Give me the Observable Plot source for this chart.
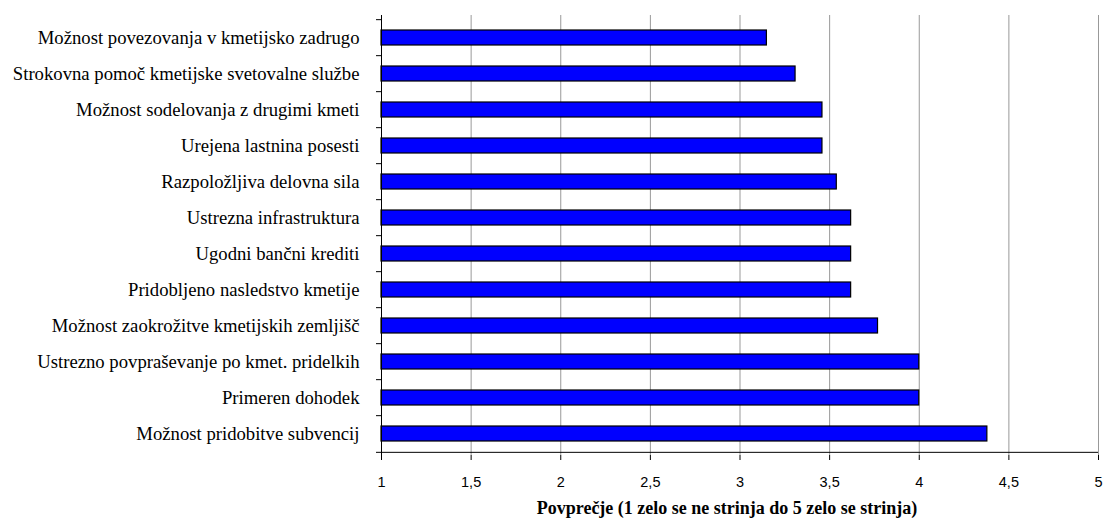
<!DOCTYPE html>
<html>
<head>
<meta charset="utf-8">
<script src="https://cdn.jsdelivr.net/npm/d3@7"></script>
<script src="https://cdn.jsdelivr.net/npm/@observablehq/plot@0.6"></script>
<style>
  html, body { margin: 0; padding: 0; background: #fff; }
  .ylab text { font-family: "Liberation Serif", "Times New Roman", serif; }
  .xtitle text { font-family: "Liberation Serif", "Times New Roman", serif; font-weight: bold; }
  .xaxis text { font-family: "Liberation Sans", Arial, sans-serif; font-size: 14.5px; }
</style>
</head>
<body>
<div id="chart"></div>
<script>
const categories = [
  "Možnost povezovanja v kmetijsko zadrugo",
  "Strokovna pomoč kmetijske svetovalne službe",
  "Možnost sodelovanja z drugimi kmeti",
  "Urejena lastnina posesti",
  "Razpoložljiva delovna sila",
  "Ustrezna infrastruktura",
  "Ugodni bančni krediti",
  "Pridobljeno nasledstvo kmetije",
  "Možnost zaokrožitve kmetijskih zemljišč",
  "Ustrezno povpraševanje po kmet. pridelkih",
  "Primeren dohodek",
  "Možnost pridobitve subvencij"
];
const values = [3.15, 3.31, 3.46, 3.46, 3.54, 3.62, 3.62, 3.62, 3.77, 4.0, 4.0, 4.38];
const xTicks = [1, 1.5, 2, 2.5, 3, 3.5, 4, 4.5, 5];
const xTickLabels = ["1", "1,5", "2", "2,5", "3", "3,5", "4", "4,5", "5"];
const gridValues = [1.5, 2, 2.5, 3, 3.5, 4, 4.5, 5];
const xTitle = "Povprečje (1 zelo se ne strinja do 5 zelo se strinja)";

const data = categories.map((c, i) => ({cat: c, value: values[i]}));

const W = 1104, H = 519;
const mTop = 15, mBottom = 64;
const half = (H - mTop - mBottom) / categories.length / 2;

const chart = Plot.plot({
  width: W,
  height: H,
  marginLeft: 381,
  marginRight: 6,
  marginTop: mTop,
  marginBottom: mBottom,
  style: {background: "#fff", fontFamily: "Liberation Sans, Arial, sans-serif", fontSize: "14px", color: "#000"},
  x: {domain: [1, 5], axis: null},
  y: {type: "band", domain: categories, paddingInner: 0.59, paddingOuter: 0.295, axis: null},
  marks: [
    Plot.ruleX(gridValues, {stroke: "#999", strokeWidth: 1}),
    Plot.barX(data, {y: "cat", x1: 1, x2: "value", fill: "#0000FF", stroke: "#000", strokeWidth: 1.2}),
    Plot.ruleX([1], {stroke: "#000", strokeWidth: 1}),
    Plot.ruleY(categories, {y: d => d, x1: 1, x2: 1, insetLeft: -5, dy: -half, stroke: "#000"}),
    Plot.ruleY([categories[categories.length - 1]], {y: d => d, x1: 1, x2: 5, insetLeft: -5, dy: half, stroke: "#000"}),
    Plot.axisX(xTicks, {
      anchor: "bottom",
      tickSize: 5,
      tickPadding: 16,
      fontSize: 14.5,
      className: "xaxis",
      tickFormat: d => xTickLabels[xTicks.indexOf(d)],
      label: null
    }),
    Plot.text(categories, {
      y: d => d, x: 1, dx: -22, textAnchor: "end", className: "ylab",
      fontFamily: "Liberation Serif", fontSize: 18.7, fill: "#000"
    }),
    Plot.text([xTitle], {
      frameAnchor: "bottom", dy: 58, dx: -13, className: "xtitle",
      fontFamily: "Liberation Serif", fontWeight: "bold", fontSize: 18, fill: "#000"
    })
  ]
});
document.getElementById("chart").appendChild(chart);
</script>
</body>
</html>
